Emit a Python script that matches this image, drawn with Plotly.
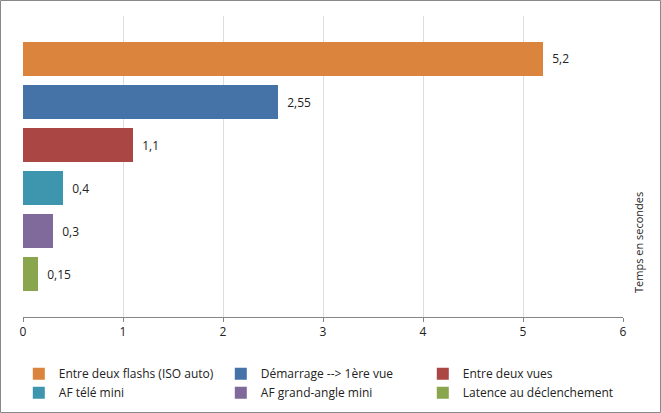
import plotly.graph_objects as go

series = ["Entre deux flashs (ISO auto)", "Démarrage --> 1ère vue", "Entre deux vues",
          "AF télé mini", "AF grand-angle mini", "Latence au déclenchement"]
values = [5.2, 2.55, 1.1, 0.4, 0.3, 0.15]
colors = ["#DB843D", "#4572A7", "#AA4643", "#3D96AE", "#80699B", "#89A54E"]
x_ticks = [0, 1, 2, 3, 4, 5, 6]
axis_title = "Temps en secondes"

FONT = "Open Sans"
FS = 12
fig = go.Figure()
# bottom-most category first so that the first series sits on top
order = list(range(len(series)))[::-1]
for i in order:
    fig.add_trace(go.Bar(
        y=[series[i]], x=[values[i]], orientation="h", name=series[i],
        marker=dict(color=colors[i], line=dict(width=0)),
        text=["\u00a0\u00a0" + ("%g" % values[i]).replace(".", ",")], textposition="outside",
        textfont=dict(family=FONT, size=FS, color="#222"),
        cliponaxis=False,
    ))

fig.update_layout(
    width=661, height=413,
    margin=dict(l=23, r=38, t=16, b=96, autoexpand=False),
    paper_bgcolor="white", plot_bgcolor="white",
    barmode="overlay", bargap=0.21,
    font=dict(family=FONT, size=FS, color="#222"),
    showlegend=True,
    legend=dict(orientation="h", traceorder="reversed",
                x=-0.007, xanchor="left", y=-0.14, yanchor="top",
                entrywidth=157, entrywidthmode="pixels",
                font=dict(family=FONT, size=FS, color="#222"),
                itemwidth=30, tracegroupgap=0),
    xaxis=dict(range=[0, 6], tickvals=x_ticks, showgrid=True, gridcolor="#DDDDDD",
               gridwidth=1, zeroline=False, showline=True, linecolor="#868686",
               ticks="outside", ticklen=4, tickcolor="#868686", automargin=False,
               tickfont=dict(family=FONT, size=FS, color="#222")),
    yaxis=dict(type="category", categoryorder="array", categoryarray=series[::-1],
               range=[-1, 6], showticklabels=False, showgrid=False, zeroline=False,
               showline=False, ticks="", automargin=False),
)
fig.add_annotation(text=axis_title, xref="paper", yref="paper",
                   x=(639 - 23) / 600, y=(317 - 243) / 301, showarrow=False,
                   xanchor="center", yanchor="middle",
                   textangle=-90, font=dict(family=FONT, size=11, color="#222"))
fig.add_shape(type="rect", xref="paper", yref="paper",
              x0=(0.5 - 23) / 600, x1=(660.5 - 23) / 600,
              y0=(317 - 412.5) / 301, y1=(317 - 0.5) / 301,
              line=dict(color="#888888", width=1), fillcolor="rgba(0,0,0,0)", layer="below")
fig.write_html("out.html", config={"displayModeBar": False},
               post_script="document.body.style.margin='0';")
